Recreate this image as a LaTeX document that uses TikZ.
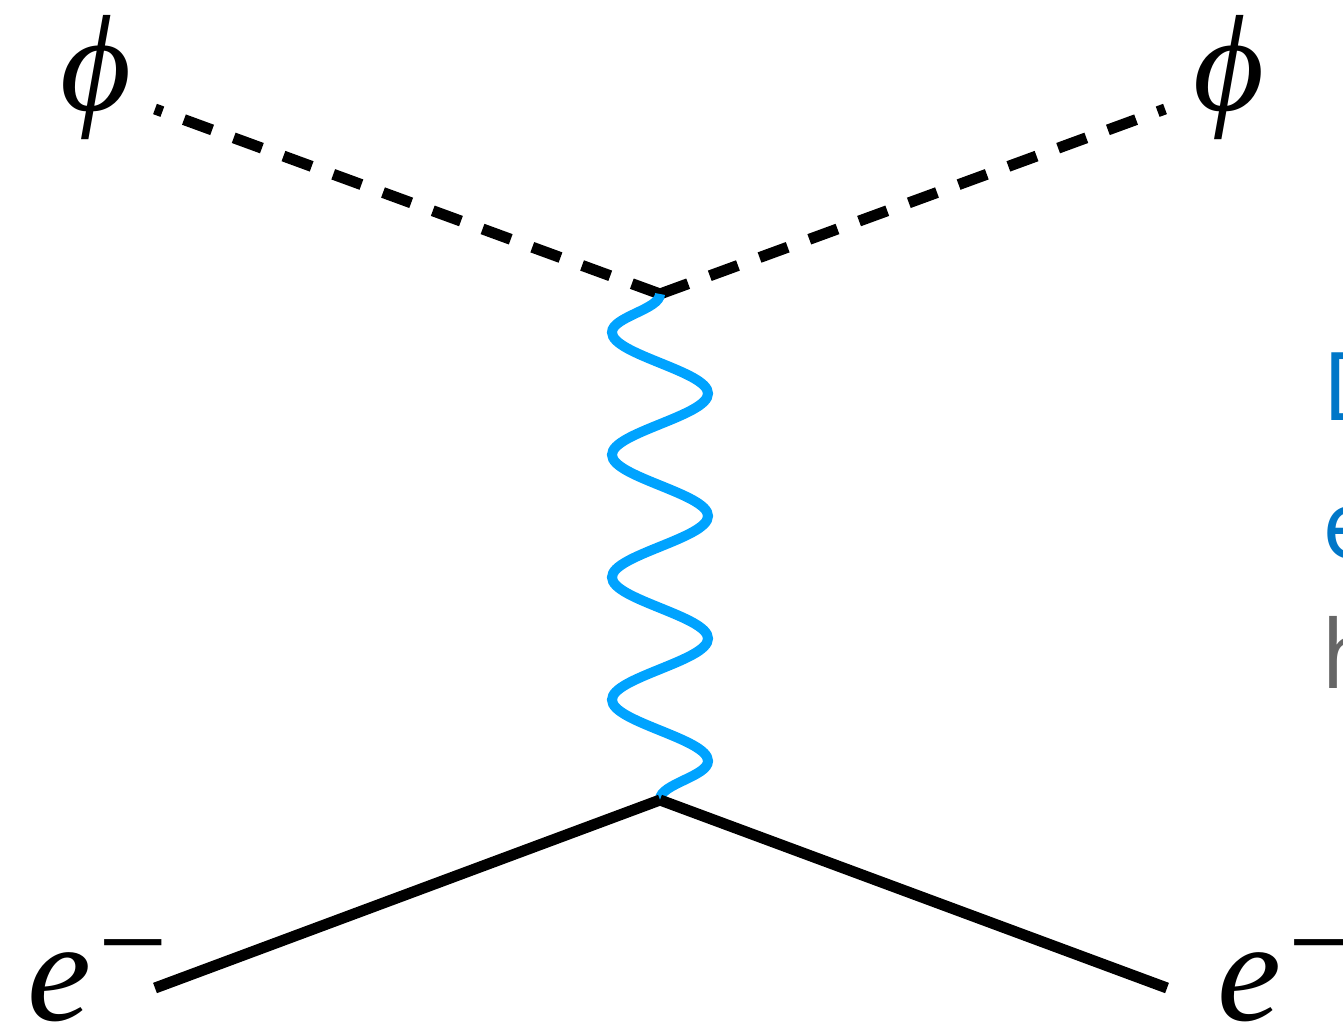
\documentclass[tikz,border=0pt]{standalone}
\usepackage{fontspec}
\newfontfamily\notefont{Open Sans}
\newfontfamily\partfont{Liberation Serif}
\usetikzlibrary{decorations.pathmorphing}
\definecolor{photon}{HTML}{00A3FF}
\definecolor{noteblue}{HTML}{0077C8}
\definecolor{notegrey}{HTML}{666666}
\newcommand{\elec}{e\kern2pt\raisebox{10.5pt}{\fontsize{35}{35}\selectfont\upshape −}}
\tikzset{fermion/.style={line width=1.1mm,black},
scalar/.style={line width=1.1mm,black,dash pattern=on 3mm off 2.3mm},
boson/.style={line width=1mm,photon,decorate,decoration={snake,mirror,amplitude=4.8mm,segment length=12.25mm}},
lab/.style={inner sep=0,anchor=base,font=\partfont\itshape\fontsize{41}{41}\selectfont},
side/.style={inner sep=0,anchor=base west,font=\notefont\fontsize{27}{27}\selectfont}}

\begin{document}
\begin{tikzpicture}
\useasboundingbox (0,0) rectangle (13.43,10.27);
% vertices
\coordinate (vtop) at (6.60,7.33);
\coordinate (vbot) at (6.60,2.27);
\coordinate (sL) at (1.55,9.18);
\coordinate (sR) at (11.65,9.18);
\coordinate (fL) at (1.55,0.39);
\coordinate (fR) at (11.67,0.39);
% labels
\node[lab,font=\partfont\itshape\fontsize{39}{39}\selectfont] (phiL) at (0.96,9.16) {ϕ};
\node[lab,font=\partfont\itshape\fontsize{39}{39}\selectfont] (phiR) at (12.29,9.16) {ϕ};
\node[lab,anchor=base west] (eL) at (0.27,0.07) {\elec};
\node[lab,anchor=base west] (eR) at (12.17,0.07) {\elec};
% lines
\draw[scalar] (vtop) -- (sL);
\draw[scalar] (vtop) -- (sR);
\draw[boson] (vtop) -- (vbot);
\draw[fermion] (vbot) -- (fL);
\draw[fermion] (vbot) -- (fR);
% cut-off text at the right edge
\node[side,text=noteblue] (noteA) at (13.22,6.07) {D};
\node[side,text=noteblue] (noteB) at (13.22,4.69) {e};
\node[side,text=notegrey] (noteC) at (13.21,3.39) {h};
\end{tikzpicture}
\end{document}
